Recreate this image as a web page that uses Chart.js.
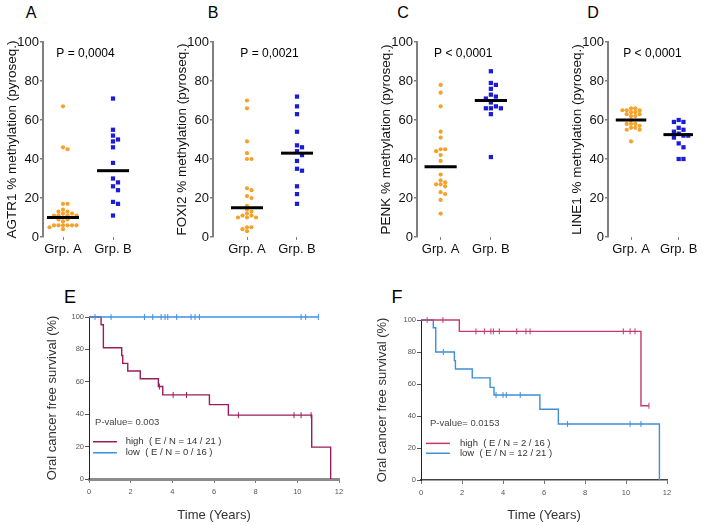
<!DOCTYPE html>
<html>
<head>
<meta charset="utf-8">
<script src="https://cdn.jsdelivr.net/npm/chart.js@4.4.1/dist/chart.umd.min.js"></script>
<style>
  html, body { margin: 0; padding: 0; background: #fff; }
  body { width: 703px; height: 525px; position: relative; overflow: hidden; font-family: 'Liberation Sans', Arial, sans-serif; }
  canvas { position: absolute; }
  .tag { position: absolute; line-height: 1; color: #000; transform: translate(-50%, -50%); }
</style>
</head>
<body>
<div class="tag" style="left:31px;top:13px;font-size:16px">A</div>
<div class="tag" style="left:213px;top:13px;font-size:16px">B</div>
<div class="tag" style="left:403px;top:13px;font-size:16px">C</div>
<div class="tag" style="left:593px;top:13px;font-size:16px">D</div>
<div class="tag" style="left:70px;top:297px;font-size:18px">E</div>
<div class="tag" style="left:397px;top:297px;font-size:18px">F</div>

<canvas id="chartA" width="170" height="260" style="left:0;top:0"></canvas>
<canvas id="chartB" width="170" height="260" style="left:170px;top:0"></canvas>
<canvas id="chartC" width="170" height="260" style="left:374px;top:0"></canvas>
<canvas id="chartD" width="138" height="260" style="left:565px;top:0"></canvas>
<canvas id="chartE" width="350" height="265" style="left:0;top:260px"></canvas>
<canvas id="chartF" width="353" height="265" style="left:350px;top:260px"></canvas>

<script>
// methylation panels
const groups = ['Grp. A', 'Grp. B']

const agtr1GrpA = [67, 46, 45, 17, 17, 14, 13, 13, 12, 12, 11, 11, 11, 11, 10, 9, 9, 8, 6, 6, 6, 6, 6, 6, 5, 4]
const agtr1GrpB = [71, 55, 52, 50, 49, 46, 38, 30, 28, 26, 24, 18, 17, 11]
const agtr1Median = [10, 34]

const foxi2GrpA = [70, 66, 49, 43, 40, 40, 25, 24, 21, 20, 16, 14, 13, 12, 11, 11, 10, 10, 10, 5, 5, 4, 3]
const foxi2GrpB = [72, 67, 63, 54, 47, 46, 44, 42, 39, 35, 34, 26, 22, 17]
const foxi2Median = [15, 43]

const penkGrpA = [78, 74, 67, 54, 51, 45, 45, 44, 42, 39, 32, 29, 28, 27, 27, 26, 23, 22, 19, 12]
const penkGrpB = [85, 79, 78, 76, 73, 72, 71, 69, 67, 66, 66, 66, 63, 41]
const penkMedian = [36, 70]

const line1GrpA = [66, 66, 65, 65, 65, 64, 64, 63, 63, 62, 62, 60, 58, 58, 58, 57, 56, 56, 55, 55, 49]
const line1GrpB = [60, 59, 59, 56, 55, 54, 53, 52, 52, 51, 48, 46, 40, 40]
const line1Median = [60, 52.5]

const pValues = ['P = 0,0004', 'P = 0,0021', 'P < 0,0001', 'P < 0,0001']

// survival panels (time in years, survival in %)
const eHighTimes = [0, 0.58, 0.69, 1.57, 1.62, 1.86, 2.46, 3.33, 3.54, 5.78, 6.69, 10.69, 11.6]
const eHighSurv = [100, 95.2, 81.0, 76.2, 71.4, 66.7, 61.9, 57.1, 51.9, 45.9, 39.4, 19.7, 0]
const eHighCensor = [3.38, 4.04, 4.68, 7.17, 9.84, 10.18, 10.66]
const eLowTimes = [0, 11.01]
const eLowSurv = [100, 100]
const eLowCensor = [0.29, 1.06, 2.66, 3.06, 3.46, 3.65, 3.78, 4.21, 4.9, 5.09, 5.3, 10.18, 10.4, 11.01]

const fHighTimes = [0, 1.87, 10.73, 11.12]
const fHighSurv = [100, 92.9, 46.4, 46.4]
const fHighCensor = [1.07, 2.68, 3.09, 3.41, 3.53, 3.82, 4.67, 5.12, 5.32, 9.87, 10.2, 10.44, 11.12]
const fLowTimes = [0, 0.6, 0.72, 1.63, 1.68, 2.5, 3.37, 3.56, 5.8, 6.7, 11.63]
const fLowSurv = [100, 95.2, 80, 74.6, 69.4, 63.8, 57.9, 53.1, 44.2, 35, 0]
const fLowCensor = [0.3, 1.09, 3.66, 4.0, 4.16, 4.84, 7.15, 10.2, 10.73]

const kmXTicks = [0, 2, 4, 6, 8, 10, 12]
const kmYTicks = [0, 20, 40, 60, 80, 100]

const orange = '#f5a12a'
const blue = '#1c1cd6'
const FONT = "'Liberation Sans', Arial, sans-serif"

function makeNotes(items) {
  return {
    id: 'notes',
    afterDatasetsDraw(chart) {
      const { ctx } = chart
      const x = chart.scales.x
      const y = chart.scales.y
      ctx.save()
      items.forEach(it => {
        if (it.x2 !== undefined) {
          ctx.strokeStyle = it.color
          ctx.lineWidth = 1.5
          ctx.beginPath()
          ctx.moveTo(x.getPixelForValue(it.x), y.getPixelForValue(it.y))
          ctx.lineTo(x.getPixelForValue(it.x2), y.getPixelForValue(it.y))
          ctx.stroke()
        } else {
          ctx.font = it.font
          ctx.fillStyle = it.color
          ctx.textAlign = it.align || 'left'
          ctx.textBaseline = 'middle'
          ctx.fillText(it.text, x.getPixelForValue(it.x), y.getPixelForValue(it.y))
        }
      })
      ctx.restore()
    }
  }
}

// simple beeswarm: spread near-equal values sideways
function swarm(values, center, step, gap) {
  const placed = []
  const out = new Array(values.length)
  const order = values.map((v, i) => i).sort((a, b) => values[b] - values[a])
  order.forEach(i => {
    const v = values[i]
    for (let k = 0; k < 40; k++) {
      const off = k === 0 ? 0 : (k % 2 ? 1 : -1) * Math.ceil(k / 2) * step
      const free = placed.every(p => Math.abs(p.y - v) >= gap || Math.abs(p.x - off) >= step * 0.95)
      if (free) {
        placed.push({ x: off, y: v })
        out[i] = { x: center + off, y: v }
        break
      }
    }
  })
  return out
}

function medianSet(pos, value) {
  return {
    data: [{ x: pos - 0.32, y: value }, { x: pos + 0.32, y: value }],
    showLine: true, borderColor: '#000', borderWidth: 3, pointRadius: 0
  }
}

function dotChart(id, title, grpA, grpB, median, pText, xMin, xMax, padRight) {
  new Chart(document.getElementById(id), {
    type: 'scatter',
    data: {
      datasets: [
        medianSet(1, median[0]),
        medianSet(2, median[1]),
        { data: swarm(grpA, 1, 0.09, 1.7), pointStyle: 'circle', pointRadius: 2.1, backgroundColor: orange, borderWidth: 0 },
        { data: swarm(grpB, 2, 0.1, 2.2), pointStyle: 'rect', pointRadius: 3, backgroundColor: blue, borderWidth: 0 }
      ]
    },
    options: {
      responsive: false,
      animation: false,
      layout: { padding: { top: 42, right: padRight, bottom: 0, left: 0 } },
      plugins: { legend: { display: false }, tooltip: { enabled: false } },
      scales: {
        x: {
          type: 'linear', min: xMin, max: xMax,
          afterBuildTicks: s => { s.ticks = groups.map((g, i) => ({ value: i + 1 })) },
          afterFit: s => { s.height = 23 },
          grid: { drawOnChartArea: false, tickLength: 3, color: '#808080' },
          border: { display: false },
          ticks: { callback: (v, i) => groups[i], font: { family: FONT, size: 13 }, color: '#111', padding: 2, maxRotation: 0, autoSkip: false }
        },
        y: {
          min: 0, max: 100,
          afterFit: s => { s.width = 43 },
          grid: { drawOnChartArea: false, tickLength: 3, color: '#808080', lineWidth: 1.5 },
          border: { color: '#808080', width: 2 },
          ticks: { stepSize: 20, font: { family: FONT, size: 13 }, color: '#111', padding: 1 },
          title: { display: true, text: title, font: { family: FONT, size: 13.5 }, color: '#111', padding: { top: 4, bottom: 0 } }
        }
      }
    },
    plugins: [makeNotes([{ text: pText, x: 1.45, y: 94, align: 'center', font: '12px ' + FONT, color: '#000' }])]
  })
}

dotChart('chartA', 'AGTR1 % methylation (pyroseq.)', agtr1GrpA, agtr1GrpB, agtr1Median, pValues[0], 0.6, 2.5, 32)
dotChart('chartB', 'FOXI2 % methylation (pyroseq.)', foxi2GrpA, foxi2GrpB, foxi2Median, pValues[1], 0.32, 2.5, 18)
dotChart('chartC', 'PENK % methylation (pyroseq.)', penkGrpA, penkGrpB, penkMedian, pValues[2], 0.53, 2.5, 28)
dotChart('chartD', 'LINE1 % methylation (pyroseq.)', line1GrpA, line1GrpB, line1Median, pValues[3], 0.517, 2.3, 10)

function survivalAt(times, surv, t) {
  let s = surv[0]
  times.forEach((tt, i) => { if (tt <= t) s = surv[i] })
  return s
}

function curveSets(times, surv, censor, color) {
  return [
    {
      data: times.map((t, i) => ({ x: t, y: surv[i] })),
      showLine: true, stepped: 'before', borderColor: color, borderWidth: 1.4, pointRadius: 0, clip: false
    },
    {
      data: censor.map(t => ({ x: t, y: survivalAt(times, surv, t) })),
      pointStyle: 'line', rotation: 90, pointRadius: 3, borderColor: color, borderWidth: 1, clip: false
    }
  ]
}

function kmChart(id, sets, notes, pad, yWidth, xHeight, xBorder) {
  new Chart(document.getElementById(id), {
    type: 'scatter',
    data: { datasets: sets },
    options: {
      responsive: false,
      animation: false,
      layout: { padding: pad },
      plugins: { legend: { display: false }, tooltip: { enabled: false } },
      scales: {
        x: {
          type: 'linear', min: 0, max: 12,
          afterBuildTicks: s => { s.ticks = kmXTicks.map(v => ({ value: v })) },
          afterFit: s => { s.height = xHeight },
          grid: { drawOnChartArea: false, tickLength: 4, color: '#777' },
          border: xBorder,
          ticks: { font: { family: FONT, size: 7.5 }, color: '#555', padding: 4, maxRotation: 0 },
          title: { display: true, text: 'Time (Years)', font: { family: FONT, size: 13 }, color: '#333', padding: { top: 0, bottom: 2 } }
        },
        y: {
          min: 0, max: 100,
          afterBuildTicks: s => { s.ticks = kmYTicks.map(v => ({ value: v })) },
          afterFit: s => { s.width = yWidth },
          grid: { drawOnChartArea: false, tickLength: 4, color: '#555' },
          border: { color: '#222', width: 1 },
          ticks: { font: { family: FONT, size: 7.5 }, color: '#555', padding: 1 },
          title: { display: true, text: 'Oral cancer free survival (%)', font: { family: FONT, size: 13 }, color: '#333', padding: { top: 5, bottom: 0 } }
        }
      }
    },
    plugins: [makeNotes(notes)]
  })
}

const eHigh = '#9c1c5a', eLow = '#3b8fe8'
const fHigh = '#c43a6e', fLow = '#3e8ed8'
const noteFont = '9.5px ' + FONT

kmChart('chartE',
  [...curveSets(eLowTimes, eLowSurv, eLowCensor, eLow), ...curveSets(eHighTimes, eHighSurv, eHighCensor, eHigh)],
  [
    { text: 'P-value= 0.003', x: 0.29, y: 35.2, font: noteFont, color: '#444' },
    { x: 0.19, x2: 1.34, y: 23, color: eHigh },
    { x: 0.19, x2: 1.34, y: 16.2, color: eLow },
    { text: 'high  ( E / N = 14 / 21 )', x: 1.76, y: 23, font: noteFont, color: '#333' },
    { text: 'low  ( E / N = 0 / 16 )', x: 1.76, y: 16.2, font: noteFont, color: '#333' }
  ],
  { top: 57, right: 11, bottom: 0, left: 40 }, 49, 46, { color: '#8c8c8c', width: 3 })

kmChart('chartF',
  [...curveSets(fHighTimes, fHighSurv, fHighCensor, fHigh), ...curveSets(fLowTimes, fLowSurv, fLowCensor, fLow)],
  [
    { text: 'P-value= 0.0153', x: 0.44, y: 35.6, font: noteFont, color: '#444' },
    { x: 0.24, x2: 1.41, y: 22.9, color: fHigh },
    { x: 0.24, x2: 1.41, y: 16.7, color: fLow },
    { text: 'high  ( E / N = 2 / 16 )', x: 1.9, y: 22.9, font: noteFont, color: '#333' },
    { text: 'low  ( E / N = 12 / 21 )', x: 1.9, y: 16.7, font: noteFont, color: '#333' }
  ],
  { top: 60, right: 36, bottom: 0, left: 20 }, 51, 45, { color: '#444', width: 1.5 })
</script>
</body>
</html>
